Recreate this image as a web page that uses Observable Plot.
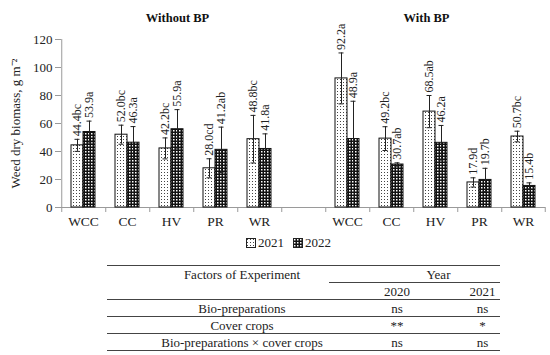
<!DOCTYPE html>
<html><head><meta charset="utf-8">
<script src="https://cdn.jsdelivr.net/npm/d3@7"></script>
<script src="https://cdn.jsdelivr.net/npm/@observablehq/plot@0.6"></script>
<style>
body{margin:0;background:#fff;font-family:"Liberation Serif",serif;color:#222}
#wrap{position:relative;width:550px;height:355px;overflow:hidden;background:#fff}
#chart{position:absolute;left:0;top:0}
#legend{position:absolute;top:235px;left:246px;font-size:13px;display:flex;align-items:center;white-space:nowrap}
#legend span{margin-right:9px}
#legend svg{margin-right:2px}
#tbl{position:absolute;left:107px;top:265px}
table{border-collapse:collapse;font-size:13px;table-layout:fixed;width:393px;color:#222}
td{padding:0;height:16px;line-height:15px;text-align:center;vertical-align:middle;white-space:nowrap}
tr.top td{border-top:1px solid #444}
td.c1{padding-left:48px}
td.yr{padding-left:48px;border-bottom:1px solid #444}
tr.line td{border-bottom:1px solid #444}
</style></head><body>
<div id="wrap"><div id="chart"></div><div id="legend"></div><div id="tbl"></div></div>
<script>
const panels = ["Without BP", "With BP"];
const categories = ["WCC", "CC", "HV", "PR", "WR"];
const years = ["2021", "2022"];
const yTicks = [0, 20, 40, 60, 80, 100, 120];
const without2021 = [44.4, 52.0, 42.2, 28.0, 48.8];
const without2022 = [53.9, 46.3, 55.9, 41.2, 41.8];
const with2021 = [92.2, 49.2, 68.5, 17.9, 50.7];
const with2022 = [48.9, 30.7, 46.2, 19.7, 15.4];
const without2021Err = [4.3, 6.8, 7.5, 6.8, 17.0];
const without2022Err = [7.8, 11.5, 14.0, 16.2, 10.8];
const with2021Err = [18.2, 8.5, 11.5, 3.3, 3.8];
const with2022Err = [27.0, 1.2, 12.4, 8.3, 2.2];
const without2021Letters = ["bc", "bc", "bc", "cd", "bc"];
const without2022Letters = ["a", "a", "a", "ab", "a"];
const with2021Letters = ["a", "bc", "ab", "d", "bc"];
const with2022Letters = ["a", "ab", "a", "b", "b"];
const yLabel = "Weed dry biomass, g m⁻²";
const tableHeader = "Factors of Experiment";
const tableYearHeader = "Year";
const tableYears = ["2020", "2021"];
const tableFactors = ["Bio-preparations", "Cover crops", "Bio-preparations × cover crops"];
const table2020 = ["ns", "**", "ns"];
const table2021 = ["ns", "*", "ns"];

const series = {
  "Without BP": {"2021": [without2021, without2021Err, without2021Letters], "2022": [without2022, without2022Err, without2022Letters]},
  "With BP": {"2021": [with2021, with2021Err, with2021Letters], "2022": [with2022, with2022Err, with2022Letters]}
};
const GAP = "gap";
const slots = [...categories.map(c => panels[0] + "|" + c), GAP, ...categories.map(c => panels[1] + "|" + c)];
const data = [];
for (const p of panels) for (const y of years) categories.forEach((c, i) => {
  const [v, e, l] = series[p][y];
  data.push({slot: p + "|" + c, year: y, value: v[i], err: e[i], label: v[i].toFixed(1) + l[i]});
});

const W = 550, H = 235, ML = 61, MR = 5, MT = 39, MB = 28;
const PO = 0.76;
const slotW = (W - ML - MR) / slots.length;
const bw = slotW / (2 + 2 * PO);
const edge = (0.5 + PO) * bw;
const tickU = 5 / ((H - MT - MB) / 120);
const axisColor = "#9a9a9a";

const chart = Plot.plot({
  width: W, height: H, marginLeft: ML, marginRight: MR, marginTop: MT, marginBottom: MB,
  style: {fontFamily: "Liberation Serif", fontSize: "13px", color: "#222", background: "white", overflow: "visible"},
  fx: {domain: slots, padding: 0, axis: null},
  x: {domain: years, paddingInner: 0, paddingOuter: PO, axis: null},
  y: {domain: [0, 120], axis: null},
  color: {domain: years, range: ["url(#pat2021)", "url(#pat2022)"]},
  marks: [
    Plot.axisY({ticks: yTicks, tickSize: 6, tickPadding: 3, stroke: axisColor, label: null, fontSize: 13}),
    Plot.axisFx({anchor: "bottom", tickSize: 0, tickPadding: 9, label: null, fontSize: 13.5,
      tickFormat: s => s === GAP ? "" : s.split("|")[1]}),
    Plot.ruleY([0], {stroke: axisColor}),
    Plot.ruleX(slots, {fx: d => d, x: () => years[0], dx: -edge, y1: 0, y2: -tickU, stroke: axisColor}),
    Plot.ruleX([slots[0]], {fx: d => d, x: () => years[0], dx: -edge, y1: 0, y2: 120, stroke: axisColor}),
    Plot.ruleX([slots[slots.length - 1]], {fx: d => d, x: () => years[1], dx: edge, y1: 0, y2: -tickU, stroke: axisColor}),
    Plot.barY(data, {fx: "slot", x: "year", y: "value", fill: "year", stroke: "#111", strokeWidth: 1}),
    Plot.ruleX(data, {fx: "slot", x: "year", y1: d => d.value - d.err, y2: d => d.value + d.err, stroke: "#222", strokeWidth: 1}),
    Plot.tickY(data, {fx: "slot", x: "year", y: d => d.value - d.err, insetLeft: 3.5, insetRight: 3.5, stroke: "#222"}),
    Plot.tickY(data, {fx: "slot", x: "year", y: d => d.value + d.err, insetLeft: 3.5, insetRight: 3.5, stroke: "#222"}),
    Plot.text(data, {fx: "slot", x: "year", y: d => d.value + d.err, text: "label", rotate: -90, textAnchor: "start", dy: -3, fontSize: 12, fill: "#222"}),
    Plot.text([{slot: panels[0] + "|HV", t: panels[0]}], {fx: "slot", text: "t", frameAnchor: "top", dy: -26, dx: 6, fontWeight: "bold", fontSize: 12.5, fill: "#111"}),
    Plot.text([{slot: panels[1] + "|HV", t: panels[1]}], {fx: "slot", text: "t", frameAnchor: "top", dy: -26, dx: -9, fontWeight: "bold", fontSize: 12.5, fill: "#111"}),
    Plot.text([{slot: slots[0], t: yLabel}], {fx: "slot", text: "t", frameAnchor: "left", textAnchor: "middle", dx: -46, rotate: -90, fontSize: 13, fill: "#222"})
  ]
});

// patterns for the bar fills
const svg = d3.select(chart);
const defs = svg.insert("defs", ":first-child");
const p1 = defs.append("pattern").attr("id", "pat2021").attr("patternUnits", "userSpaceOnUse").attr("width", 3).attr("height", 3);
p1.append("rect").attr("width", 3).attr("height", 3).attr("fill", "#fff");
p1.append("rect").attr("x", 1).attr("y", 1).attr("width", 1).attr("height", 1).attr("fill", "#444");
const p2 = defs.append("pattern").attr("id", "pat2022").attr("patternUnits", "userSpaceOnUse").attr("width", 3).attr("height", 3);
p2.append("rect").attr("width", 3).attr("height", 3).attr("fill", "#111");
p2.append("rect").attr("x", 1).attr("y", 1).attr("width", 1.5).attr("height", 1.5).attr("fill", "#fff");
document.getElementById("chart").appendChild(chart);

// legend
const leg = d3.select("#legend");
years.forEach(y => {
  const s = leg.append("svg").attr("width", 10).attr("height", 10);
  s.append("rect").attr("x", 0.5).attr("y", 0.5).attr("width", 9).attr("height", 9)
    .attr("fill", `url(#pat${y})`).attr("stroke", "#222");
  leg.append("span").text(y);
});

// table
let html = `<table><colgroup><col style="width:222px"><col style="width:136px"><col style="width:35px"></colgroup>`;
html += `<tr class="top"><td class="c1">${tableHeader}</td><td colspan="2" class="yr">${tableYearHeader}</td></tr>`;
html += `<tr class="line"><td></td><td>${tableYears[0]}</td><td>${tableYears[1]}</td></tr>`;
tableFactors.forEach((f, i) => {
  html += `<tr class="line"><td class="c1">${f}</td><td>${table2020[i]}</td><td>${table2021[i]}</td></tr>`;
});
html += `</table>`;
document.getElementById("tbl").innerHTML = html;
</script>
</body></html>
